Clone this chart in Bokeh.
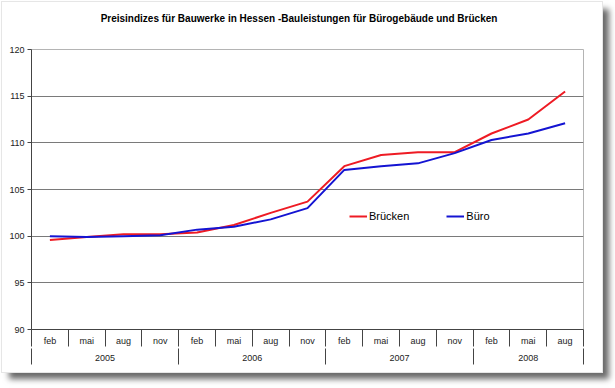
from bokeh.plotting import figure
from bokeh.layouts import column
from bokeh.models import Range1d, LinearAxis, FixedTicker, Legend, LegendItem, Grid, Div
from bokeh.embed import file_html
from bokeh.resources import INLINE

title_text = "Preisindizes für Bauwerke in Hessen -Bauleistungen für Bürogebäude und Brücken"
years = ["2005", "2006", "2007", "2008"]
months_by_year = [["feb", "mai", "aug", "nov"],
                  ["feb", "mai", "aug", "nov"],
                  ["feb", "mai", "aug", "nov"],
                  ["feb", "mai", "aug"]]
bruecken = [99.6, 99.9, 100.2, 100.2, 100.4, 101.2, 102.5, 103.7,
            107.5, 108.7, 109.0, 109.0, 111.0, 112.5, 115.5]
buero = [100.0, 99.9, 100.0, 100.1, 100.7, 101.0, 101.8, 103.0,
         107.1, 107.5, 107.8, 108.9, 110.3, 111.0, 112.1]
y_ticks = [90, 95, 100, 105, 110, 115, 120]

FONT = "Liberation Sans"
month_labels = [m for ms in months_by_year for m in ms]
n = len(month_labels)
xs = list(range(1, n + 1))
month_bounds = [i + 0.5 for i in range(0, n + 1)]

year_bounds = [0.5]
for ms in months_by_year:
    year_bounds.append(year_bounds[-1] + len(ms))
def key(v):
    return int(v) if float(v).is_integer() else v
year_centers = [key((a + b) / 2) for a, b in zip(year_bounds[:-1], year_bounds[1:])]

title_div = Div(
    text=('<div style="width:594px;padding-top:11px;line-height:12px;text-align:center;'
          'font-family:\'Liberation Sans\',Arial,sans-serif;font-size:10px;font-weight:bold;'
          'color:black;white-space:nowrap;">' + title_text + '</div>'),
    width=600, height=40, margin=0)

p = figure(width=600, height=330, x_range=Range1d(0.5, n + 0.5),
           y_range=Range1d(y_ticks[0], y_ticks[-1]),
           x_axis_type=None, y_axis_type=None,
           output_backend="svg", toolbar_location=None,
           min_border_left=29, min_border_right=19, min_border_top=7, min_border_bottom=43,
           margin=0)
p.background_fill_color = "white"
p.border_fill_color = "white"
p.outline_line_color = "#b4b4b4"

yax = LinearAxis(ticker=FixedTicker(ticks=y_ticks),
                 major_tick_out=4, major_tick_in=0, minor_tick_out=0, minor_tick_in=0,
                 axis_line_color="#444444", major_tick_line_color="#444444",
                 major_label_text_font=FONT, major_label_text_font_size="9px",
                 major_label_text_color="#222222", major_label_standoff=3)
p.add_layout(yax, "left")

ax_m = LinearAxis(ticker=FixedTicker(ticks=xs, minor_ticks=month_bounds),
                  major_label_overrides={x: m for x, m in zip(xs, month_labels)},
                  major_tick_out=0, major_tick_in=0, minor_tick_out=17, minor_tick_in=0,
                  axis_line_color="#444444", minor_tick_line_color="#444444",
                  major_label_text_font=FONT, major_label_text_font_size="9px",
                  major_label_text_color="#222222", major_label_standoff=-11)
p.add_layout(ax_m, "below")

ax_y = LinearAxis(ticker=FixedTicker(ticks=year_centers, minor_ticks=year_bounds),
                  major_label_overrides={x: y for x, y in zip(year_centers, years)},
                  major_tick_out=0, major_tick_in=0, minor_tick_out=16, minor_tick_in=0,
                  axis_line_color=None, minor_tick_line_color="#444444",
                  major_label_text_font=FONT, major_label_text_font_size="9px",
                  major_label_text_color="#222222", major_label_standoff=-10)
p.add_layout(ax_y, "below")

grid = Grid(dimension=1, ticker=FixedTicker(ticks=y_ticks[1:-1]),
            grid_line_color="#7a7a7a", grid_line_width=1)
p.add_layout(grid)

r1 = p.line(xs, bruecken, line_color="#ee1b24", line_width=2)
r2 = p.line(xs, buero, line_color="#1414d2", line_width=2)

legend = Legend(items=[LegendItem(label="Brücken", renderers=[r1]),
                       LegendItem(label="Büro", renderers=[r2])],
                orientation="horizontal", location=(318, 106),
                background_fill_alpha=0, border_line_color=None,
                label_text_font=FONT, label_text_font_size="11px", label_text_color="black",
                glyph_width=18, glyph_height=14, label_height=14, label_standoff=2,
                spacing=37, padding=0, margin=0)
p.add_layout(legend)

layout = column(title_div, p, spacing=0)
layout.styles = {"position": "relative", "left": "2px", "top": "2px",
                 "background-color": "white",
                 "box-shadow": "0 0 0 1px #e6e6e6, 7px 7px 6px #6a6a6a"}

open("out.html", "w").write(file_html(layout, INLINE))
